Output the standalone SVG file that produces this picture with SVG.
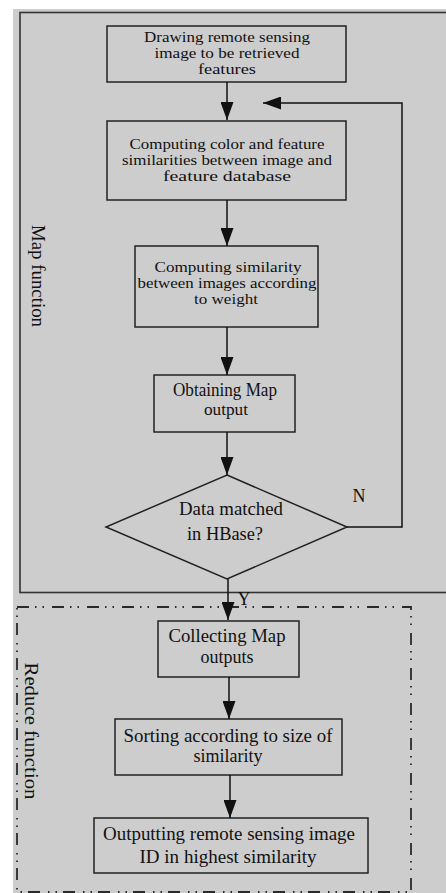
<svg xmlns="http://www.w3.org/2000/svg" width="446" height="893" viewBox="0 0 446 893">
<style>
.bg{fill:#cdcdcd}
.box{fill:none;stroke:#222;stroke-width:1.5}
.frame{fill:none;stroke:#333;stroke-width:1.6}
.dash{fill:none;stroke:#2a2a2a;stroke-width:1.8;stroke-dasharray:12 6 1.5 6 1.5 8}
.t{font-family:"Liberation Serif","Times New Roman",serif;font-size:15.5px;fill:#111;text-anchor:middle}
.tl{font-family:"Liberation Serif","Times New Roman",serif;font-size:18px;fill:#111;text-anchor:middle}
.conn{fill:none;stroke:#111;stroke-width:1.5}
</style>
<defs>
<marker id="ah" markerUnits="userSpaceOnUse" markerWidth="18" markerHeight="13" refX="18" refY="6.5" orient="auto" viewBox="0 0 18 13">
<path d="M0,0 L18,6.5 L0,13 Z" fill="#111"/>
</marker>
</defs>
<rect class="bg" x="13" y="9" width="433" height="884"/>
<g id="map-frame">
<rect class="frame" x="20" y="12.5" width="440" height="580"/>
<text class="tl" transform="translate(32,276) rotate(90)" textLength="102" lengthAdjust="spacingAndGlyphs">Map function</text>
</g>
<g id="reduce-frame">
<rect class="dash" x="17" y="607" width="394" height="285"/>
<text class="tl" style="font-size:19px" transform="translate(25,731) rotate(90)" textLength="137" lengthAdjust="spacingAndGlyphs">Reduce function</text>
</g>
<g id="n1">
<rect class="box" x="107" y="26" width="239" height="56"/>
<text class="t" x="227" y="42" textLength="166" lengthAdjust="spacingAndGlyphs">Drawing remote sensing</text>
<text class="t" x="227" y="58" textLength="145" lengthAdjust="spacingAndGlyphs">image to be retrieved</text>
<text class="t" x="227" y="74" textLength="58" lengthAdjust="spacingAndGlyphs">features</text>
</g>
<g id="n2">
<rect class="box" x="107" y="121" width="239" height="79"/>
<text class="t" x="227" y="149" textLength="195" lengthAdjust="spacingAndGlyphs">Computing color and feature</text>
<text class="t" x="227" y="165" textLength="210" lengthAdjust="spacingAndGlyphs">similarities between image and</text>
<text class="t" x="227" y="181" textLength="128" lengthAdjust="spacingAndGlyphs">feature database</text>
</g>
<g id="n3">
<rect class="box" x="135" y="246" width="183" height="81"/>
<text class="t" x="228" y="272" textLength="147" lengthAdjust="spacingAndGlyphs">Computing similarity</text>
<text class="t" x="227" y="288" textLength="179" lengthAdjust="spacingAndGlyphs">between images according</text>
<text class="t" x="226" y="304" textLength="64" lengthAdjust="spacingAndGlyphs">to weight</text>
</g>
<g id="n4">
<rect class="box" x="154" y="375" width="141" height="57"/>
<text class="tl" x="225" y="396" textLength="104" lengthAdjust="spacingAndGlyphs">Obtaining Map</text>
<text class="tl" style="font-size:17px" x="226" y="415" textLength="44" lengthAdjust="spacingAndGlyphs">output</text>
</g>
<g id="n5">
<polygon class="box" points="227,475 347,527 227,579 106,527"/>
<text class="tl" x="231" y="515" textLength="104" lengthAdjust="spacingAndGlyphs">Data matched</text>
<text class="tl" x="225" y="540" textLength="76" lengthAdjust="spacingAndGlyphs">in HBase?</text>
</g>
<g id="n6">
<rect class="box" x="158" y="621" width="141" height="56"/>
<text class="tl" x="227" y="642" textLength="117" lengthAdjust="spacingAndGlyphs">Collecting Map</text>
<text class="tl" x="227" y="663">outputs</text>
</g>
<g id="n7">
<rect class="box" x="115" y="719" width="227" height="56"/>
<text class="tl" x="228" y="742" textLength="209" lengthAdjust="spacingAndGlyphs">Sorting according to size of</text>
<text class="tl" x="228" y="762">similarity</text>
</g>
<g id="n8">
<rect class="box" x="94" y="818" width="274" height="55"/>
<text class="tl" x="229" y="840" textLength="252" lengthAdjust="spacingAndGlyphs">Outputting remote sensing image</text>
<text class="tl" x="228" y="863" textLength="177" lengthAdjust="spacingAndGlyphs">ID in highest similarity</text>
</g>
<g id="connectors">
<path class="conn" d="M227,82 V120" marker-end="url(#ah)"/>
<path class="conn" d="M227,200 V246" marker-end="url(#ah)"/>
<path class="conn" d="M227,327 V375" marker-end="url(#ah)"/>
<path class="conn" d="M227,432 V475" marker-end="url(#ah)"/>
<path class="conn" d="M347,527 H402 V103 H263" marker-end="url(#ah)"/>
<path class="conn" d="M228,579 V620" marker-end="url(#ah)"/>
<path class="conn" d="M229,677 V719" marker-end="url(#ah)"/>
<path class="conn" d="M230,775 V818" marker-end="url(#ah)"/>
<text class="tl" x="359" y="502">N</text>
<text class="tl" x="244" y="605">Y</text>
</g>
</svg>
